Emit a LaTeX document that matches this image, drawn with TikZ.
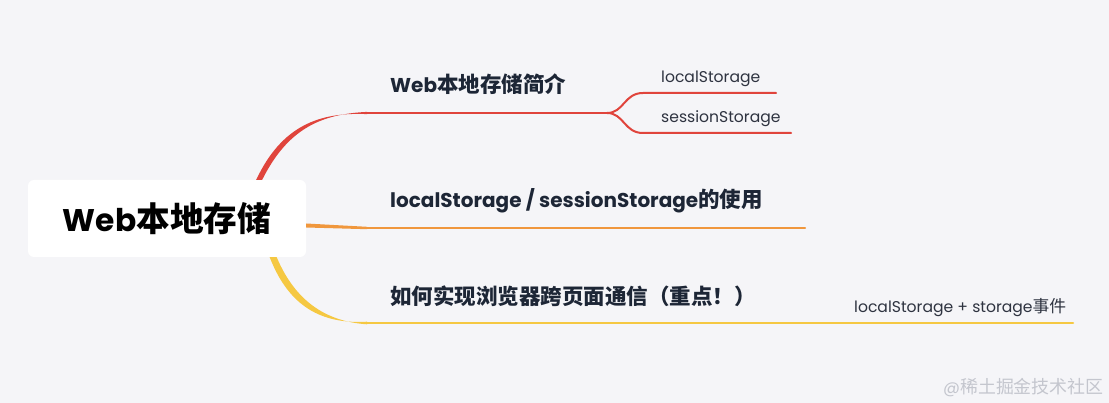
\documentclass[tikz,border=0pt]{standalone}
\usepackage{fontspec}
\setmainfont{Poppins}
\newfontfamily\cjk[Scale=1.075]{Noto Sans CJK SC}
\newcommand{\zh}[1]{{\cjk #1}}
\definecolor{fondo}{HTML}{F5F5F8}
\definecolor{tinta}{HTML}{1D2636}
\definecolor{tinta2}{HTML}{2E3340}
\definecolor{rojo}{HTML}{E0443C}
\definecolor{naranja}{HTML}{F0973D}
\definecolor{amarillo}{HTML}{F5C842}
\definecolor{marca}{HTML}{C4C6CE}

\begin{document}
\begin{tikzpicture}[x=1pt,y=-1pt]
% estilos de linea y texto
\tikzstyle{rama} = [line width=2pt,line cap=round];
\tikzstyle{tema} = [anchor=base west,inner sep=0pt,text=tinta,font=\fontsize{20}{24}\selectfont\bfseries];
\tikzstyle{subtema} = [anchor=base west,inner sep=0pt,text=tinta2,font=\fontsize{15.6}{18}\selectfont];
\tikzstyle{raizest} = [fill=white,rounded corners=6pt,minimum width=278pt,minimum height=77pt,inner sep=0pt,text=black,font=\fontsize{31.3}{36}\selectfont\bfseries];
% fondo
\fill[fondo] (0,0) rectangle (1109,403);
\useasboundingbox (0,0) rectangle (1109,403);
% nudo central
\node[raizest] (raiz) at (167,218.5) {Web\zh{本地存储}};
% puntos de las ramas
\coordinate (a1) at ([xshift=-47pt]raiz.north east);
\coordinate (a2) at ([yshift=-7pt]raiz.east);
\coordinate (a3) at ([xshift=-33pt]raiz.south east);
\coordinate (r1) at (367,113);
\coordinate (e1) at (607,113);
\coordinate (h1) at (643,93);
\coordinate (f1) at (776,93);
\coordinate (h2) at (643,133);
\coordinate (f2) at (791,133);
\coordinate (r2) at (367,228);
\coordinate (e2) at (805,228);
\coordinate (r3) at (367,323);
\coordinate (e3) at (1073,323);
% ramas que salen del nudo central
\fill[rojo] ([xshift=-3pt]a1) .. controls (282,125) and (320,112) .. ([yshift=-1.1pt]r1)
  -- ([yshift=1.1pt]r1) .. controls (322,114) and (288,128) .. ([xshift=3pt]a1) -- cycle;
\fill[naranja] ([yshift=-2pt]a2) -- ([yshift=-1.2pt]r2) -- ([yshift=1.2pt]r2) -- ([yshift=2pt]a2) -- cycle;
\fill[amarillo] ([xshift=-3.5pt]a3) .. controls (289,307) and (322,324.3) .. ([yshift=1.3pt]r3)
  -- ([yshift=-1.3pt]r3) .. controls (328,321.7) and (296,303) .. ([xshift=3.5pt]a3) -- cycle;
\draw[rama,rojo] (r1) -- (e1);
\draw[rama,naranja,line width=2.4pt] (r2) -- (e2);
\draw[rama,amarillo,line width=2.6pt] (r3) -- (e3);
% subramas
\draw[rama,rojo] (e1) .. controls (624,113) and (624,93) .. (h1) -- (f1);
\draw[rama,rojo] (e1) .. controls (624,113) and (624,133) .. (h2) -- (f2);
% rotulos
\node[tema] (t1) at (390,93) {Web\zh{本地存储简介}};
\node[tema] (t2) at (390,208) {localStorage / sessionStorage\zh{的使用}};
\node[tema] (t3) at (390,305) {\zh{如何实现浏览器跨页面通信（重点！）}};
\node[subtema] (s1) at (661,83) {localStorage};
\node[subtema] (s2) at (661,123) {sessionStorage};
\node[subtema] (s3) at (854,313) {localStorage + storage\zh{事件}};
\node[anchor=base west,inner sep=0pt,text=marca,font=\fontsize{16.7}{20}\selectfont] (sello) at (943,393) {@\zh{稀土掘金技术社区}};
\end{tikzpicture}
\end{document}
